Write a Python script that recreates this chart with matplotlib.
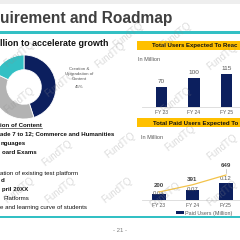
import matplotlib
matplotlib.use('Agg')
import matplotlib.pyplot as plt
from matplotlib.patches import Rectangle

plt.rcParams['font.family'] = ['Liberation Sans', 'DejaVu Sans']

# ---------------- data ----------------
title_text = 'uirement and Roadmap'
subtitle_text = 'llion to accelerate growth'
donut_shares = [45, 37, 18]
donut_label_lines = ['Creation &', 'Upgradation of', 'Content', '45%']
list_lines = ['ion of Content', 'ade 7 to 12; Commerce and Humanities', 'nguages',
              'oard Exams', 'ation of existing test platform', 'd', 'pril 20XX',
              'Platforms', 'e and learning curve of students']
list_bold = [True, True, True, True, False, True, True, False, False]

chart1_title = 'Total Users Expected To Reac'
chart1_years = ['FY 23', 'FY 24', 'FY 25']
total_users = [70, 100, 115]

chart2_title = 'Total Paid Users Expected To'
chart2_years = ['FY 23', 'FY 24', 'FY25']
paid_users = [0.04, 0.07, 0.12]
paid_line = [200, 391, 649]
legend_label = 'Paid Users (Million)'
unit_label = 'In Million'
page_label = '- 21 -'
watermark = 'FundTQ'

# ---------------- style ----------------
NAVY = '#0c1f5e'
TEAL = '#33c0c4'
GREY_D = '#b3b3b3'
YELLOW = '#ffc000'
LINE_Y = '#f3c34a'
TXT_G = '#595959'

W = H = 240
fig = plt.figure(figsize=(2.4, 2.4), dpi=100)


def px_axes(x0, y0, x1, y1, **kw):
    return fig.add_axes([x0 / W, 1 - y1 / H, (x1 - x0) / W, (y1 - y0) / H], **kw)


bg = px_axes(0, 0, 240, 240)
bg.set_xlim(0, 240)
bg.set_ylim(240, 0)
bg.axis('off')

# header
bg.add_patch(Rectangle((0, 0), 240, 4, color='#eeeeee', lw=0))
bg.text(0.5, 23, title_text, fontsize=11.2, fontweight='bold', color='#404040',
        ha='left', va='baseline')
bg.add_patch(Rectangle((0, 31), 240, 2.5, color=TEAL, lw=0))
bg.text(0.5, 46.5, subtitle_text, fontsize=6.4, fontweight='bold', color='#111111',
        ha='left', va='baseline')

# left list
list_baselines = [127, 135.5, 144.5, 154, 174.5, 182.5, 191.5, 200, 209]
list_x = [0.5, 0.5, 0.5, 1.5, 0.5, 0.5, 1.5, 3, 0.5]
fig.canvas.draw()
renderer = fig.canvas.get_renderer()
for i, (t, b, yb, xx) in enumerate(zip(list_lines, list_bold, list_baselines, list_x)):
    tx = bg.text(xx, yb, t, fontsize=4.4, fontweight='bold' if b else 'normal',
                 color='#111111', ha='left', va='baseline')
    if i == 0:
        bb = tx.get_window_extent(renderer=renderer)
        bg.plot([0, bb.x1 * 240 / fig.bbox.width], [yb + 1.3, yb + 1.3],
                color='#111111', lw=0.4)

# donut label
for t, yb in zip(donut_label_lines, [69.5, 75, 80.5, 87.5]):
    bg.text(79, yb, t, fontsize=3.2, color=TXT_G, ha='center', va='baseline')

# yellow bands
bg.add_patch(Rectangle((137, 41), 103, 8.5, color=YELLOW, lw=0))
bg.text(151.5, 47.3, chart1_title, fontsize=4.35, fontweight='bold', color='#111111',
        ha='left', va='baseline')
bg.text(138, 61, unit_label, fontsize=4, color=TXT_G, ha='left', va='baseline')

bg.add_patch(Rectangle((137, 118), 103, 9, color=YELLOW, lw=0))
bg.text(153, 125.3, chart2_title, fontsize=4.4, fontweight='bold', color='#111111',
        ha='left', va='baseline')
bg.text(141, 139, unit_label, fontsize=4, color=TXT_G, ha='left', va='baseline')

# footer
bg.add_patch(Rectangle((0, 216), 240, 2.2, color=TEAL, lw=0))
bg.text(120, 232, page_label, fontsize=4.3, color='#7f7f7f', ha='center', va='baseline')

# ---------------- donut ----------------
axd = px_axes(-8, 55, 56, 119)
axd.pie(donut_shares, colors=[NAVY, GREY_D, TEAL], startangle=90, counterclock=False,
        wedgeprops=dict(width=0.46, edgecolor='white', linewidth=0.6))
axd.set_xlim(-1, 1)
axd.set_ylim(-1, 1)
axd.set_aspect('equal')
axd.axis('off')

# ---------------- chart 1 ----------------
ax1 = px_axes(142, 55, 240, 107)
ax1.patch.set_alpha(0)
x1 = list(range(len(total_users)))
ax1.bar(x1, total_users, width=0.34, color=NAVY)
ax1.set_xlim(-0.6, 2.415)
ax1.set_ylim(0, 181)
for xi, v in zip(x1, total_users):
    ax1.annotate(str(v), (xi, v), xytext=(0, 2.9), textcoords='offset points',
                 ha='center', va='baseline', fontsize=4.6, color=TXT_G)
ax1.set_xticks(x1)
ax1.set_xticklabels(chart1_years, fontsize=3.6, color=TXT_G)
ax1.tick_params(axis='x', length=0, pad=2.2)
ax1.set_yticks([])
for s in ['top', 'right', 'left']:
    ax1.spines[s].set_visible(False)
ax1.spines['bottom'].set_color('#d9d9d9')
ax1.spines['bottom'].set_linewidth(0.6)

# ---------------- chart 2 ----------------
ax2 = px_axes(142, 140, 240, 200)
ax2.patch.set_alpha(0)
x2 = list(range(len(paid_users)))
bars = ax2.bar(x2, paid_users, width=0.40, color=NAVY, label=legend_label)
ax2.set_xlim(-0.507, 2.418)
ax2.set_ylim(0, 0.4348)
bar_offsets = [-0.4, -0.5, 2.4]
for xi, v, off in zip(x2, paid_users, bar_offsets):
    ax2.annotate(f'{v:.2f}', (xi, v), xytext=(0, off), textcoords='offset points',
                 ha='center', va='baseline', fontsize=4.3, color=TXT_G)
ax2.set_xticks(x2)
ax2.set_xticklabels(chart2_years, fontsize=3.6, color=TXT_G)
ax2.tick_params(axis='x', length=0, pad=2.5)
ax2.set_yticks([])
for s in ['top', 'right', 'left']:
    ax2.spines[s].set_visible(False)
ax2.spines['bottom'].set_color('#d9d9d9')
ax2.spines['bottom'].set_linewidth(0.6)

ax2b = ax2.twinx()
ax2b.plot(x2, paid_line, color=LINE_Y, lw=0.9)
ax2b.set_ylim(-11.2, 1572.8)
ax2b.axis('off')
line_offsets = [3.7, 2.7, 6.0]
for xi, v, off in zip(x2, paid_line, line_offsets):
    ax2b.annotate(str(v), (xi, v), xytext=(0, off), textcoords='offset points',
                  ha='center', va='baseline', fontsize=4.4, color='#404040',
                  fontweight='bold')
ax2b.plot([x2[-1], x2[-1]], [paid_line[-1] + 60, paid_line[-1] + 170],
          color='#a6a6a6', lw=0.4)

ax2.legend(handles=[bars], labels=[legend_label], loc='center left',
           bbox_to_anchor=(176 / W, 1 - 213 / H), bbox_transform=fig.transFigure,
           frameon=False, fontsize=3.9, handlelength=1.5, handleheight=0.65,
           handletextpad=0.2, borderpad=0, borderaxespad=0, labelcolor=TXT_G)

# ---------------- watermarks ----------------
wm_ax = px_axes(0, 0, 240, 240)
wm_ax.set_xlim(0, 240)
wm_ax.set_ylim(240, 0)
wm_ax.axis('off')
wm_pos = [(19, 54), (60, 84), (110, 55), (128, 35), (176, 35), (222, 57),
          (19, 100), (176, 100), (120, 145), (57, 153), (180, 138), (222, 147),
          (19, 190), (60, 190), (117, 190), (165, 195), (222, 193)]
for (wx, wy) in wm_pos:
    wm_ax.text(wx, wy, watermark, fontsize=7, color='#8c8c8c', alpha=0.3,
               rotation=38, ha='center', va='center')

fig.savefig('out.png', dpi=100)
